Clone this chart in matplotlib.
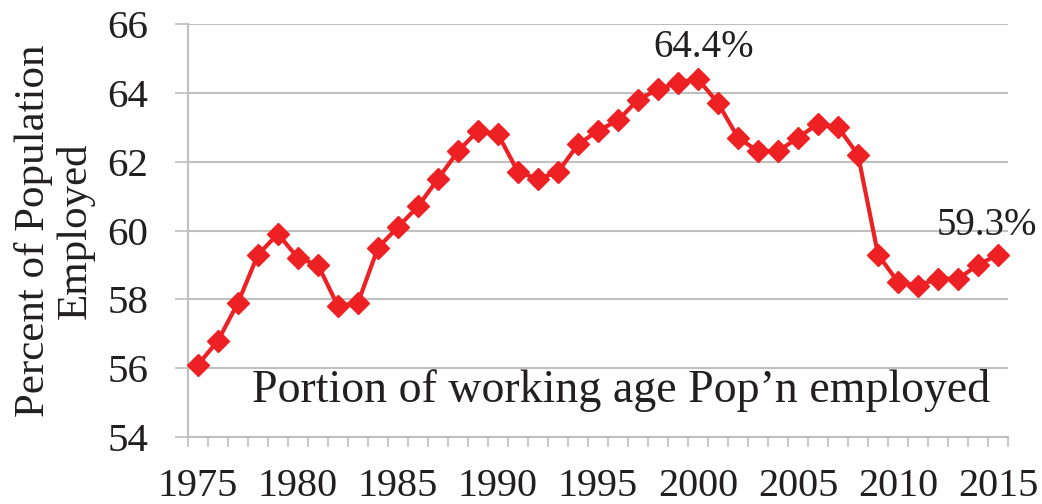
import matplotlib
matplotlib.use("Agg")
import matplotlib.pyplot as plt
import numpy as np

# Employment-population ratio, civilian population, annual averages
years = list(range(1975, 2016))
employed_pct = [
    56.1, 56.8, 57.9, 59.3, 59.9, 59.2, 59.0, 57.8, 57.9, 59.5,
    60.1, 60.7, 61.5, 62.3, 62.9, 62.8, 61.7, 61.5, 61.7, 62.5,
    62.9, 63.2, 63.8, 64.1, 64.3, 64.4, 63.7, 62.7, 62.3, 62.3,
    62.7, 63.1, 63.0, 62.2, 59.3, 58.5, 58.4, 58.6, 58.6, 59.0,
    59.3,
]
year_labels = [str(y) for y in range(1975, 2016, 5)]
y_ticks = [54, 56, 58, 60, 62, 64, 66]

RED = "#ED2024"
GRID = "#BFBFBF"
INK = "#231F20"

plt.rcParams["font.family"] = "Liberation Serif"

fig = plt.figure(figsize=(10.42, 5.04), dpi=100)
ax = fig.add_axes([0.1804, 0.1329, 0.7870, 0.8195])

x = np.arange(len(years))
ax.plot(x, employed_pct, color=RED, lw=3, marker="D", ms=11.5,
        mec=RED, mfc=RED, zorder=3, clip_on=False)

ax.set_xlim(-0.5, len(years) - 0.5)
ax.set_ylim(54, 66)
ax.set_yticks(y_ticks)
ax.set_yticklabels([str(v) for v in y_ticks])

# category axis: ticks between years, labels every fifth year
ax.set_xticks(np.arange(-0.5, len(years)), minor=True)
ax.set_xticks(np.arange(0, len(years), 5))
ax.set_xticklabels(year_labels)
ax.tick_params(axis="x", which="major", length=0, pad=22, labelsize=29,
               labelcolor=INK)
ax.tick_params(axis="x", which="minor", length=7, width=1.2, color=GRID,
               direction="out")
ax.tick_params(axis="y", length=9.5, width=1.2, color=GRID, pad=19,
               labelsize=29.5, labelcolor=INK)

ax.grid(axis="y", color=GRID, lw=1.5)
ax.set_axisbelow(True)
for side in ("top", "right"):
    ax.spines[side].set_visible(False)
for side in ("left", "bottom"):
    ax.spines[side].set_color(GRID)
    ax.spines[side].set_linewidth(1.5)

fig.text(0.0524, 0.5417, "Percent of Population\nEmployed", rotation=90,
         ha="center", va="center", fontsize=31, linespacing=1.1,
         color=INK)

peak = int(np.argmax(employed_pct))
ax.text(x[peak] + 0.3, 65.05, f"{employed_pct[peak]:.1f}%",
        ha="center", va="baseline", fontsize=28, color=INK)
ax.text(x[-1] - 3.05, 59.87, f"{employed_pct[-1]:.1f}%",
        ha="left", va="baseline", fontsize=28, color=INK)

ax.text(21.15, 55.01, "Portion of working age Pop\u2019n employed",
        ha="center", va="baseline", fontsize=33, color=INK)

fig.savefig("out.png", dpi=100)
